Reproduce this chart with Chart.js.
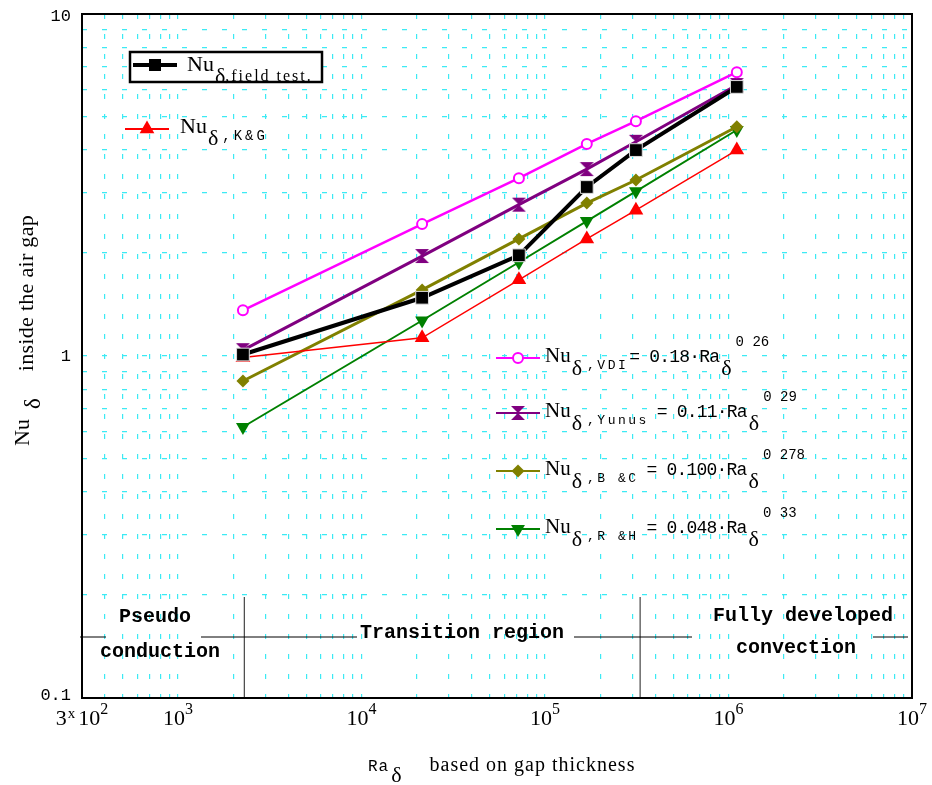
<!DOCTYPE html>
<html>
<head>
<meta charset="utf-8">
<script src="https://cdn.jsdelivr.net/npm/chart.js@4.4.1/dist/chart.umd.min.js"></script>
<style>
  html, body { margin: 0; padding: 0; background: #fff; }
  #wrap { width: 932px; height: 785px; }
</style>
</head>
<body>
<div id="wrap"><canvas id="nu-chart"></canvas></div>
<script>
const raValues = [2260, 21400, 72100, 169000, 313000, 1110000]

// Nu_delta series, one per correlation / measurement
const nuFieldTest = [1.01, 1.48, 1.97, 3.12, 4.0, 6.12]
const nuKG = [0.99, 1.13, 1.67, 2.2, 2.67, 4.0]
const nuVDI = [1.36, 2.43, 3.31, 4.17, 4.86, 6.76]
const nuYunus = [1.04, 1.96, 2.77, 3.52, 4.23, 6.2]
const nuBC = [0.845, 1.56, 2.2, 2.8, 3.27, 4.68]
const nuRH = [0.62, 1.27, 1.88, 2.48, 3.03, 4.58]

// tick labels: value, base, superscript
const xTickValues = [300, 1e3, 1e4, 1e5, 1e6, 1e7]
const xTickBases = ['10', '10', '10', '10', '10', '10']
const xTickExps = ['2', '3', '4', '5', '6', '7']
const yTickValues = [0.1, 1, 10]
const yTickLabels = ['0.1', '1', '10']

// regime boundaries on the Ra axis
const regionBounds = [2300, 330000]

const SERIF = '"Liberation Serif", "Times New Roman", serif'
const MONO = '"Liberation Mono", "Courier New", monospace'
const GRID = '#3ceaf4'

// hourglass marker for the Yunus series
function hourglass(color) {
    let c = document.createElement('canvas')
    c.width = 16
    c.height = 16
    let g = c.getContext('2d')
    g.fillStyle = color
    g.beginPath()
    g.moveTo(1, 1); g.lineTo(15, 1); g.lineTo(8, 8)
    g.lineTo(15, 15); g.lineTo(1, 15); g.lineTo(8, 8)
    g.closePath()
    g.fill()
    return c
}
let hourglassPurple = hourglass('#800080')

function pts(values) {
    return values.map((v, i) => ({x: raValues[i], y: v}))
}

// all 1..9 x 10^n positions inside [min, max] so the grid sits on minor ticks
function logTicks(min, max) {
    let out = []
    for (let e = -2; e <= 8; e++) {
        for (let m = 1; m <= 9; m++) {
            let v = m * Math.pow(10, e)
            if (v >= min * 0.9999 && v <= max * 1.0001) out.push(+v.toPrecision(3))
        }
    }
    if (!out.includes(min)) out.unshift(min)
    return out
}

// draw a run of text pieces with their own font / vertical offset
function drawRuns(ctx, x, y, runs, measureOnly) {
    for (let r of runs) {
        ctx.font = r.font
        ctx.letterSpacing = (r.ls || 0) + 'px'
        x += r.gap || 0
        if (!measureOnly) ctx.fillText(r.text, x, y + (r.dy || 0))
        x += ctx.measureText(r.text).width
    }
    ctx.letterSpacing = '0px'
    return x
}

function legendMarker(ctx, x, y, opt) {
    ctx.save()
    ctx.strokeStyle = opt.color
    ctx.lineWidth = opt.lineWidth
    ctx.beginPath()
    ctx.moveTo(x - 22, y)
    ctx.lineTo(x + 22, y)
    ctx.stroke()
    ctx.fillStyle = opt.fill || opt.color
    ctx.strokeStyle = opt.color
    Chart.helpers.drawPoint(ctx, {
        pointStyle: opt.style, radius: opt.radius, rotation: opt.rotation || 0,
        borderWidth: opt.borderWidth || 0
    }, x, y)
    ctx.restore()
}

const overlay = {
    id: 'overlay',
    afterDraw(chart) {
        let ctx = chart.ctx
        let area = chart.chartArea
        let xs = chart.scales.x
        let ys = chart.scales.y
        ctx.save()
        ctx.fillStyle = '#000'
        ctx.textBaseline = 'alphabetic'

        // regime separators
        ctx.strokeStyle = '#444'
        ctx.lineWidth = 1.2
        regionBounds.forEach(function(b) {
            let px = xs.getPixelForValue(b)
            ctx.beginPath()
            ctx.moveTo(px, 597)
            ctx.lineTo(px, area.bottom)
            ctx.stroke()
        })
        ctx.strokeStyle = '#000'
        ctx.lineWidth = 1
        ;[[80, 106], [201, 357], [574, 692], [873, 908]].forEach(function(s) {
            ctx.beginPath()
            ctx.moveTo(s[0], 637)
            ctx.lineTo(s[1], 637)
            ctx.stroke()
        })
        ctx.font = 'bold 20px ' + MONO
        ctx.textAlign = 'center'
        ctx.fillText('Pseudo', 155, 622)
        ctx.fillText('conduction', 160, 657)
        ctx.fillText('Transition region', 462, 638)
        ctx.fillText('Fully developed', 803, 621)
        ctx.fillText('convection', 796, 653)
        ctx.textAlign = 'left'

        // plot frame
        ctx.strokeStyle = '#000'
        ctx.lineWidth = 2
        ctx.strokeRect(area.left, area.top, area.right - area.left, area.bottom - area.top)

        // y tick labels
        ctx.font = '17px ' + MONO
        ctx.textAlign = 'right'
        ctx.textBaseline = 'middle'
        yTickValues.forEach(function(v, i) {
            let py = ys.getPixelForValue(v)
            if (i === 0) py -= 3
            if (i === yTickValues.length - 1) py += 2
            ctx.fillText(yTickLabels[i], 71, py)
        })
        ctx.textAlign = 'left'
        ctx.textBaseline = 'alphabetic'

        // x tick labels with superscripts
        xTickValues.forEach(function(v, i) {
            let runs = []
            if (v === 300) {
                runs.push({text: '3', font: '22px ' + SERIF})
                runs.push({text: 'x', font: '15px ' + SERIF, dy: -7, gap: 1})
                runs.push({text: xTickBases[i], font: '22px ' + SERIF, gap: 3})
            } else {
                runs.push({text: xTickBases[i], font: '22px ' + SERIF})
            }
            runs.push({text: xTickExps[i], font: '16px ' + SERIF, dy: -11})
            let w = drawRuns(ctx, 0, 0, runs, true)
            drawRuns(ctx, xs.getPixelForValue(v) - w / 2, 725, runs)
        })

        // boxed legend entry for field test
        ctx.fillStyle = '#fff'
        ctx.fillRect(130, 52, 192, 30)
        ctx.lineWidth = 2.5
        ctx.strokeRect(130, 52, 192, 30)
        ctx.fillStyle = '#000'
        legendMarker(ctx, 155, 65, {color: '#000', lineWidth: 4, style: 'rect', radius: 8.5})
        drawRuns(ctx, 187, 71, [
            {text: 'Nu', font: '22px ' + SERIF},
            {text: 'δ', font: '22px ' + SERIF, dy: 12, gap: 1},
            {text: ',field test.', font: '16px ' + SERIF, dy: 10, ls: 2}
        ])

        legendMarker(ctx, 147, 129, {color: '#ff0000', lineWidth: 2, style: 'triangle', radius: 8.5})
        drawRuns(ctx, 180, 133, [
            {text: 'Nu', font: '22px ' + SERIF},
            {text: 'δ', font: '22px ' + SERIF, dy: 12, gap: 1},
            {text: ',K&G', font: '14px ' + MONO, dy: 7, gap: 4, ls: 3}
        ])

        // correlation legend
        let rows = [
            {y: 358, color: '#ff00ff', style: 'circle', radius: 5, fill: '#fff', bw: 2,
             sub: ',VDI', eqGap: 1, eq: '= 0.18·Ra', exp: '0 26'},
            {y: 413, color: '#800080', style: hourglassPurple, radius: 7,
             sub: ',Yunus', eqGap: 8, eq: '= 0.11·Ra', exp: '0 29'},
            {y: 471, color: '#808000', style: 'rectRot', radius: 6.5,
             sub: ',B &C', eqGap: 8, eq: '= 0.100·Ra', exp: '0 278'},
            {y: 529, color: '#008000', style: 'triangle', radius: 8, rotation: 180,
             sub: ',R &H', eqGap: 8, eq: '= 0.048·Ra', exp: '0 33'}
        ]
        rows.forEach(function(r) {
            legendMarker(ctx, 518, r.y, {color: r.color, lineWidth: 2, style: r.style,
                radius: r.radius, fill: r.fill, borderWidth: r.bw, rotation: r.rotation})
            ctx.fillStyle = '#000'
            let x = drawRuns(ctx, 545, r.y + 4, [
                {text: 'Nu', font: '21px ' + SERIF},
                {text: 'δ', font: '22px ' + SERIF, dy: 13, gap: 1},
                {text: r.sub, font: '13px ' + MONO, dy: 7, gap: 5, ls: 2.5},
                {text: r.eq, font: '18px ' + MONO, gap: r.eqGap, ls: -0.8}
            ])
            x = drawRuns(ctx, x, r.y + 4, [
                {text: 'δ', font: '22px ' + SERIF, dy: 13, gap: 2}
            ])
            drawRuns(ctx, x + 4, r.y - 12, [
                {text: r.exp, font: '14px ' + MONO}
            ])
        })

        // axis titles
        drawRuns(ctx, 368, 771, [
            {text: 'Ra', font: '16px ' + MONO, ls: 1},
            {text: 'δ', font: '22px ' + SERIF, dy: 11, gap: 2},
            {text: 'based on gap thickness', font: '20px ' + SERIF, gap: 28, ls: 1}
        ])
        ctx.save()
        ctx.translate(29, 446)
        ctx.rotate(-Math.PI / 2)
        drawRuns(ctx, 0, 0, [
            {text: 'Nu', font: '22px ' + SERIF},
            {text: 'δ', font: '23px ' + SERIF, dy: 11, gap: 10},
            {text: 'inside the air gap', font: '22px ' + SERIF, gap: 27, dy: 4, ls: 0.3}
        ])
        ctx.restore()

        ctx.restore()
    }
}

let chartCanvas = document.querySelector('#nu-chart')
let ctx = chartCanvas.getContext('2d')

function series(label, values, color, width, style, radius, extra) {
    return Object.assign({
        label: label,
        data: pts(values),
        borderColor: color,
        backgroundColor: color,
        borderWidth: width,
        pointStyle: style,
        pointRadius: radius,
        pointBackgroundColor: color,
        pointBorderColor: color,
        pointBorderWidth: 0,
        tension: 0
    }, extra || {})
}

let nuChart = new Chart(ctx, {
    type: 'line',
    data: {
        datasets: [
            series('Nu field test', nuFieldTest, '#000', 4, 'rect', 9,
                {pointBorderColor: '#ddd', pointBorderWidth: 1}),
            series('Nu K&G', nuKG, '#ff0000', 1.5, 'triangle', 8.5),
            series('Nu VDI', nuVDI, '#ff00ff', 2.5, 'circle', 5,
                {pointBackgroundColor: '#fff', pointBorderWidth: 2}),
            series('Nu Yunus', nuYunus, '#800080', 3, hourglassPurple, 8),
            series('Nu B&C', nuBC, '#808000', 3, 'rectRot', 6.5),
            series('Nu R&H', nuRH, '#008000', 2, 'triangle', 8, {pointRotation: 180})
        ]
    },
    options: {
        responsive: true,
        maintainAspectRatio: false,
        animation: false,
        layout: {padding: {left: 0, top: 14, right: 20, bottom: 0}},
        plugins: {legend: {display: false}, tooltip: {enabled: false}},
        scales: {
            x: {
                type: 'logarithmic',
                min: 300,
                max: 1e7,
                afterBuildTicks: function(scale) {
                    scale.ticks = logTicks(300, 1e7).map(v => ({value: v}))
                },
                afterFit: function(scale) { scale.height = 87 },
                grid: {color: GRID, lineWidth: 1.2, drawTicks: false},
                border: {display: false, dash: [5, 15]},
                ticks: {display: false, autoSkip: false}
            },
            y: {
                type: 'logarithmic',
                min: 0.1,
                max: 10,
                afterBuildTicks: function(scale) {
                    scale.ticks = logTicks(0.1, 10).map(v => ({value: v}))
                },
                afterFit: function(scale) { scale.width = 82 },
                grid: {color: GRID, lineWidth: 1.2, drawTicks: false},
                border: {display: false, dash: [5, 15]},
                ticks: {display: false, autoSkip: false}
            }
        }
    },
    plugins: [overlay]
})
</script>
</body>
</html>
